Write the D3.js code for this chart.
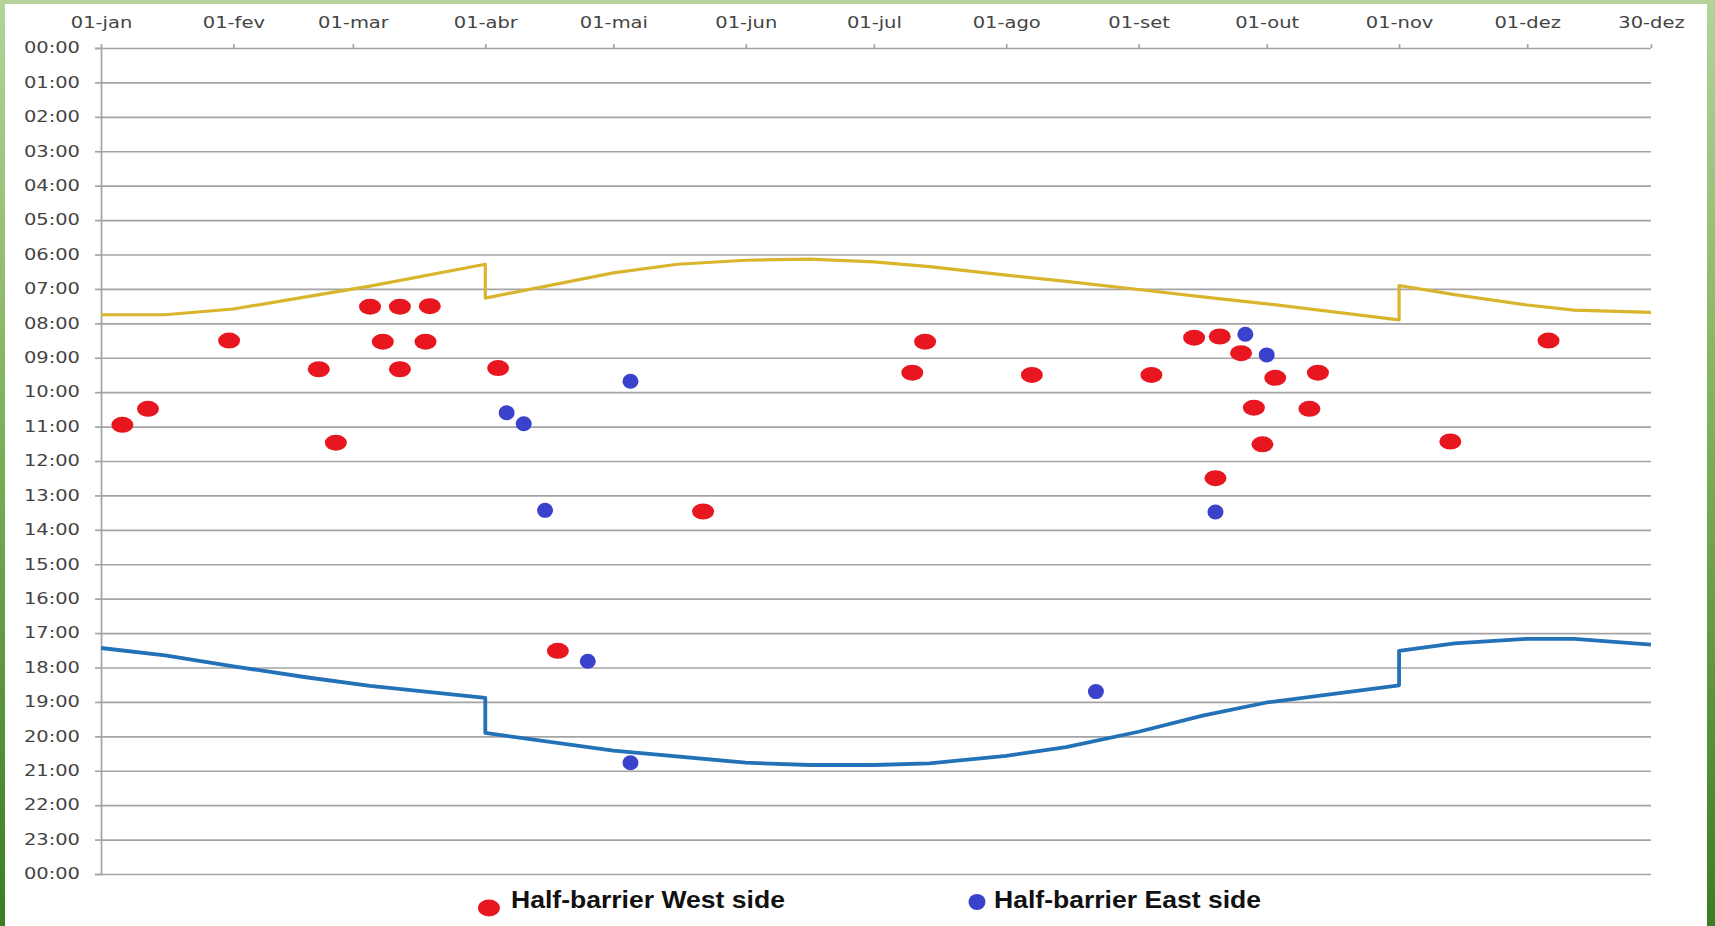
<!DOCTYPE html>
<html>
<head>
<meta charset="utf-8">
<script src="https://cdn.jsdelivr.net/npm/d3@7"></script>
<style>
  html, body { margin: 0; padding: 0; background: #ffffff; }
  svg { display: block; }
</style>
</head>
<body>
<svg id="chart" width="1715" height="926"></svg>
<script>
// ---------- DATA ----------
const monthTickDates = ["01-01","02-01","03-01","04-01","05-01","06-01","07-01","08-01","09-01","10-01","11-01","12-01","12-30"];
const monthTickLabels = ["01-jan","01-fev","01-mar","01-abr","01-mai","01-jun","01-jul","01-ago","01-set","01-out","01-nov","01-dez","30-dez"];
const hourTickLabels = ["00:00","01:00","02:00","03:00","04:00","05:00","06:00","07:00","08:00","09:00","10:00","11:00","12:00","13:00","14:00","15:00","16:00","17:00","18:00","19:00","20:00","21:00","22:00","23:00","00:00"];

const westDates = ["01-06","01-12","01-31","02-21","02-25","03-05","03-12","03-19","03-08","03-18","03-12","04-04","05-22","04-18","07-13","07-10","08-07","09-04","09-14","09-20","09-25","10-03","10-13","09-28","10-11","09-30","09-19","11-13","12-06"];
const westTimes = ["10:57","10:29","08:30","09:20","11:28","07:31","07:31","07:30","08:32","08:32","09:20","09:18","13:28","17:31","08:32","09:26","09:30","09:30","08:25","08:23","08:52","09:35","09:26","10:27","10:29","11:31","12:30","11:26","08:30"];

const eastDates = ["05-05","04-06","04-10","04-15","04-25","05-05","08-22","09-26","10-01","09-19"];
const eastTimes = ["09:41","10:36","10:55","13:26","17:49","20:46","18:42","08:19","08:55","13:29"];

const sunriseDates = ["01-01","01-16","02-01","02-18","03-05","04-01","04-01","05-01","05-16","06-01","06-16","07-01","07-14","08-01","08-15","09-01","09-16","10-01","11-01","11-01","11-14","12-01","12-12","12-30"];
const sunriseTimes = ["07:45","07:45","07:35","07:14","06:55","06:17","07:16","06:32","06:17","06:10","06:08","06:13","06:21","06:36","06:47","07:01","07:14","07:26","07:54","06:54","07:10","07:28","07:37","07:41"];

const sunsetDates = ["01-01","01-16","02-01","02-18","03-05","04-01","04-01","05-01","06-01","06-16","07-01","07-14","08-01","08-15","09-01","09-16","10-01","11-01","11-01","11-14","12-01","12-12","12-30"];
const sunsetTimes = ["17:26","17:39","17:58","18:17","18:32","18:53","19:54","20:25","20:46","20:50","20:50","20:47","20:34","20:19","19:52","19:24","19:01","18:31","17:31","17:18","17:10","17:10","17:20"];

const legendLabels = ["Half-barrier West side","Half-barrier East side"];

// ---------- HELPERS ----------
const parseDay = s => new Date(2014, +s.slice(0,2) - 1, +s.slice(3,5));
const parseHour = s => +s.slice(0,2) + (+s.slice(3,5)) / 60;
const zip = (ds, ts) => ds.map((d, i) => ({ date: parseDay(d), hour: parseHour(ts[i]) }));

const west = zip(westDates, westTimes);
const east = zip(eastDates, eastTimes);
const sunrise = zip(sunriseDates, sunriseTimes);
const sunset = zip(sunsetDates, sunsetTimes);

// ---------- LAYOUT ----------
const W = 1715, H = 926;
const pL = 101, pR = 1651, pT = 48, pB = 874;
const SX = 1.3; // horizontal stretch of the axis lettering
const LSX = 1.155; // horizontal stretch of the legend lettering

const svg = d3.select("#chart");

// green frame
const defs = svg.append("defs");
const g1 = defs.append("linearGradient").attr("id","frameGrad").attr("x1",0).attr("y1",0).attr("x2",0).attr("y2",1);
g1.append("stop").attr("offset","0%").attr("stop-color","#b4d39a");
g1.append("stop").attr("offset","45%").attr("stop-color","#7fb25a");
g1.append("stop").attr("offset","100%").attr("stop-color","#3b7d22");
svg.append("rect").attr("x",0).attr("y",0).attr("width",W).attr("height",H).attr("fill","#ffffff");
svg.append("rect").attr("x",0).attr("y",0).attr("width",5).attr("height",H).attr("fill","url(#frameGrad)");
svg.append("rect").attr("x",W-8).attr("y",0).attr("width",8).attr("height",H).attr("fill","url(#frameGrad)");
svg.append("rect").attr("x",0).attr("y",0).attr("width",W).attr("height",4).attr("fill","#b4d39a");

// scales
const x = d3.scaleTime().domain([parseDay("01-01"), parseDay("12-30")]).range([pL, pR]);
const y = d3.scaleLinear().domain([0, 24]).range([pT, pB]);
const hourTicks = d3.range(0, 25);

// gridlines
const grid = svg.append("g").attr("transform", `translate(${pL},0)`)
  .call(d3.axisLeft(y).tickValues(hourTicks).tickSize(-(pR - pL)).tickFormat(""));
grid.select(".domain").remove();
grid.selectAll(".tick line").attr("stroke", "#a4a4a4").attr("stroke-width", 1.7);

// y axis
const yAxis = svg.append("g").attr("transform", `translate(${pL},0)`)
  .call(d3.axisLeft(y).tickValues(hourTicks).tickSize(6).tickPadding(15)
    .tickFormat((d, i) => hourTickLabels[i]));
yAxis.select(".domain").attr("stroke", "#a4a4a4").attr("stroke-width", 1.7);
yAxis.selectAll(".tick line").attr("stroke", "#a4a4a4").attr("stroke-width", 1.7);
yAxis.selectAll(".tick text")
  .attr("font-family", "DejaVu Sans").attr("font-size", 15).attr("fill", "#444")
  .attr("x", -21 / SX).attr("transform", `scale(${SX},1)`);

// top (date) axis
const monthTicks = monthTickDates.map(parseDay);
const xAxis = svg.append("g").attr("transform", `translate(0,${pT})`)
  .call(d3.axisTop(x).tickValues(monthTicks).tickSize(4).tickPadding(16)
    .tickFormat((d, i) => monthTickLabels[i]));
xAxis.select(".domain").remove();
xAxis.selectAll(".tick line").attr("stroke", "#a4a4a4").attr("stroke-width", 1.7);
xAxis.selectAll(".tick text")
  .attr("font-family", "DejaVu Sans").attr("font-size", 15).attr("fill", "#444")
  .attr("transform", `scale(${SX},1)`);

// sunrise / sunset lines
const line = d3.line().x(d => x(d.date)).y(d => y(d.hour));
svg.append("path").datum(sunrise).attr("d", line)
  .attr("fill", "none").attr("stroke", "#d8b52c").attr("stroke-width", 3.2).attr("stroke-linejoin", "round");
svg.append("path").datum(sunset).attr("d", line)
  .attr("fill", "none").attr("stroke", "#2372b8").attr("stroke-width", 3.8).attr("stroke-linejoin", "round");

// points
const RED = "#e8161f", BLUE = "#3a42cc";
svg.append("g").selectAll("ellipse").data(west).join("ellipse")
  .attr("cx", d => x(d.date)).attr("cy", d => y(d.hour))
  .attr("rx", 11).attr("ry", 8).attr("fill", RED);
svg.append("g").selectAll("ellipse").data(east).join("ellipse")
  .attr("cx", d => x(d.date)).attr("cy", d => y(d.hour))
  .attr("rx", 8).attr("ry", 7.5).attr("fill", BLUE);

// legend
const legend = svg.append("g");
const legendItems = [
  { label: legendLabels[0], color: RED, cx: 489, cy: 908, rx: 11, ry: 8.5, tx: 511 },
  { label: legendLabels[1], color: BLUE, cx: 977, cy: 902, rx: 8.5, ry: 8, tx: 994 }
];
legendItems.forEach(it => {
  legend.append("ellipse").attr("cx", it.cx).attr("cy", it.cy).attr("rx", it.rx).attr("ry", it.ry).attr("fill", it.color);
  legend.append("text").attr("x", it.tx / LSX).attr("y", 908)
    .attr("transform", `scale(${LSX},1)`)
    .attr("font-family", "Liberation Sans, Arial, sans-serif").attr("font-weight", "bold")
    .attr("font-size", 23).attr("fill", "#111").text(it.label);
});
</script>
</body>
</html>
